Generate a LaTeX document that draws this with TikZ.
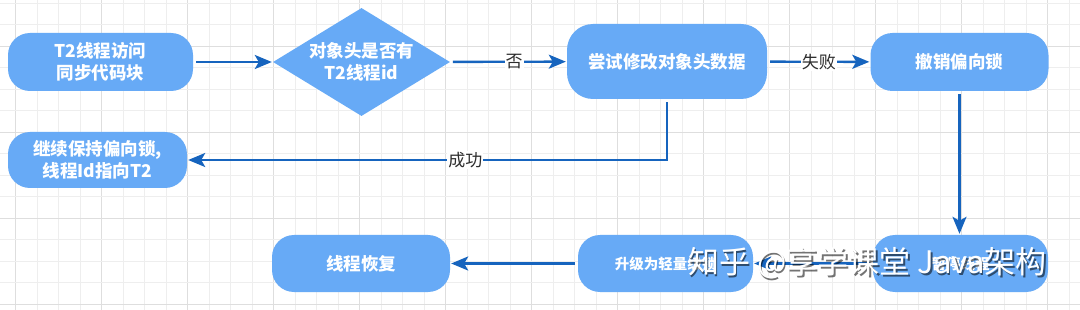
\documentclass[tikz,border=0pt]{standalone}
\usepackage{fontspec}
\setmainfont{Noto Sans CJK SC}
\usetikzlibrary{shapes.geometric,arrows.meta}
\definecolor{boxblue}{RGB}{103,170,246}
\definecolor{lineblue}{RGB}{22,100,190}
\definecolor{labelgray}{RGB}{45,45,45}
\definecolor{gridminor}{RGB}{238,238,238}
\definecolor{gridmajor}{RGB}{222,222,222}
\begin{document}
\begin{tikzpicture}[x=1pt,y=-1pt,
  box/.style={rounded corners=22pt, fill=boxblue, text=white, align=center, inner sep=0pt,
    font=\fontsize{17.5}{22}\selectfont\bfseries},
  smallbox/.style={box, font=\fontsize{14.5}{18}\selectfont\bfseries},
  dia/.style={diamond, fill=boxblue, text=white, align=center, inner sep=0pt, aspect=1.64,
    minimum width=177pt, minimum height=108pt, font=\fontsize{17.5}{22}\selectfont\bfseries},
  conn/.style={draw=lineblue, line width=2.4pt, -{Stealth[length=17pt,width=14pt,inset=4pt]},
    shorten <=3pt, shorten >=1pt},
  lbl/.style={fill=white, inner sep=1pt, text=labelgray, font=\fontsize{17}{20}\selectfont},
  wm/.style={font=\fontsize{31}{31}\selectfont, inner sep=0pt}]
\useasboundingbox (0,0) rectangle (1080,310);
\fill[white] (0,0) rectangle (1080,310);
% grid
\foreach \k in {0,...,51}{
  \pgfmathsetmacro\xx{-6+21.5*\k}
  \pgfmathtruncatemacro\mm{mod(\k,4)}
  \ifnum\mm=1 \draw[gridmajor,line width=0.9pt] (\xx,0) -- (\xx,310);
  \else \draw[gridminor,line width=0.7pt] (\xx,0) -- (\xx,310); \fi
}
\foreach \k in {0,...,14}{
  \pgfmathsetmacro\yy{3+21.5*\k}
  \pgfmathtruncatemacro\mm{mod(\k,4)}
  \ifnum\mm=2 \draw[gridmajor,line width=0.9pt] (0,\yy) -- (1080,\yy);
  \else \draw[gridminor,line width=0.7pt] (0,\yy) -- (1080,\yy); \fi
}
% nodes
\node[box, minimum width=185pt, minimum height=58pt] (A) at (100.5,62) {T2线程访问\\同步代码块};
\node[dia] (B) at (361.5,62) {对象头是否有\\T2线程id};
\node[box, rounded corners=26pt, minimum width=200pt, minimum height=75pt] (C) at (667,61.5) {尝试修改对象头数据};
\node[box, minimum width=178pt, minimum height=58pt] (D) at (959.5,62) {撤销偏向锁};
\node[box, minimum width=179pt, minimum height=56pt] (E) at (97.5,160) {继续保持偏向锁,\\线程Id指向T2};
\node[smallbox, minimum width=175pt, minimum height=57pt] (F) at (960.5,263.5) {暂停线程};
\node[smallbox, minimum width=175pt, minimum height=57pt] (G) at (665.5,263.5) {升级为轻量级锁};
\node[box, minimum width=178pt, minimum height=57pt] (H) at (361,263.5) {线程恢复};
% connectors
\draw[conn] (A) -- (B);
\draw[conn] (B) -- node[lbl, pos=0.55] (L1) {否} (C);
\draw[conn] (C) -- node[lbl, pos=0.5] (L2) {失败} (D);
\draw[conn] (C.south) |- node[lbl, pos=0.71] (L3) {成功} (E.east);
\draw[conn] (D.south) -- (D.south |- F.north);
\draw[conn] (F) -- (G);
\draw[conn] (G) -- (H);
% watermark
\node[wm, text=black, opacity=0.55] (W0) at (869,265) {知乎 @享学课堂 Java架构};
\node[wm, text=white] (W) at (867.5,263.5) {知乎 @享学课堂 Java架构};
\end{tikzpicture}
\end{document}
